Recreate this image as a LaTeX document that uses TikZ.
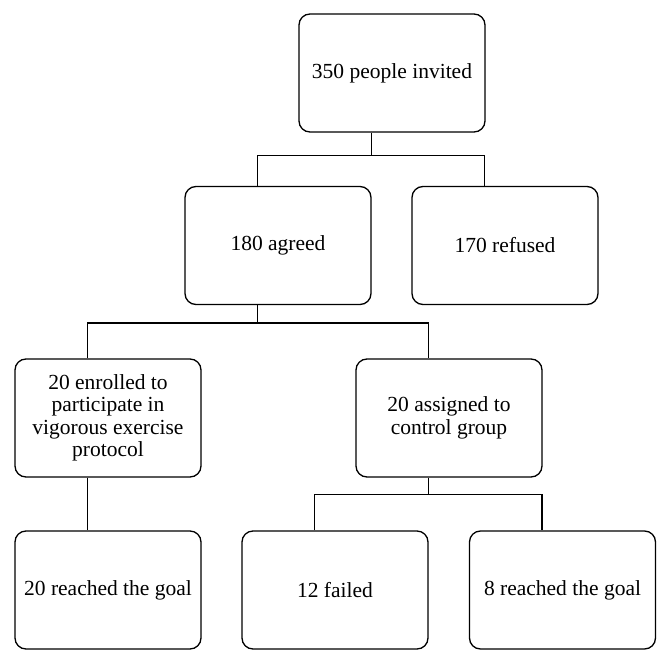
\documentclass[tikz,border=0pt]{standalone}
\usepackage{fontspec}
\setmainfont{Liberation Serif}
\usetikzlibrary{positioning, calc}
\newcommand{\tapx}{-20.5pt}

\begin{document}
\begin{tikzpicture}[x=1pt, y=-1pt,
          box/.style={draw=black, line width=1.3pt, rounded corners=11pt, fill=white, font=\fontsize{21.5}{22.5}\selectfont, minimum width=186pt, minimum height=118pt, inner sep=2pt, align=center},
          link/.style={draw=black, line width=1.4pt}]
        \useasboundingbox (0,0) rectangle (670,664);
        \node[box] (invited) at (392,73) {350 people invited};
        \node[box] (agreed) at (278,245.5) {180 agreed};
        \node[box] (refused) at (505,245.5) {170 refused};
        \node[box] (enrolled) at (108,418) {20 enrolled to\\participate in\\vigorous exercise\\protocol};
        \node[box] (control) at (449,418) {20 assigned to\\control group};
        \node[box] (exgoal) at (108,590) {20 reached the goal};
        \node[box] (failed) at (335,590) {12 failed};
        \node[box] (ctrlgoal) at (562.5,590) {8 reached the goal};
        \draw[link] ([xshift=\tapx]invited.south) -- ++(0,23) coordinate (j1);
        \draw[link] ([xshift=\tapx]agreed.north) |- (j1) -| ([xshift=\tapx]refused.north);
        \draw[link] ([xshift=\tapx]agreed.south) -- ++(0,18) coordinate (j2);
        \draw[link] ([xshift=\tapx]enrolled.north) |- (j2) -| ([xshift=\tapx]control.north);
        \draw[link] ([xshift=\tapx]enrolled.south) -- ([xshift=\tapx]exgoal.north);
        \draw[link] ([xshift=\tapx]control.south) -- ++(0,17) coordinate (j3);
        \draw[link] ([xshift=\tapx]failed.north) |- (j3) -| ([xshift=\tapx]ctrlgoal.north);
      \end{tikzpicture}
\end{document}
